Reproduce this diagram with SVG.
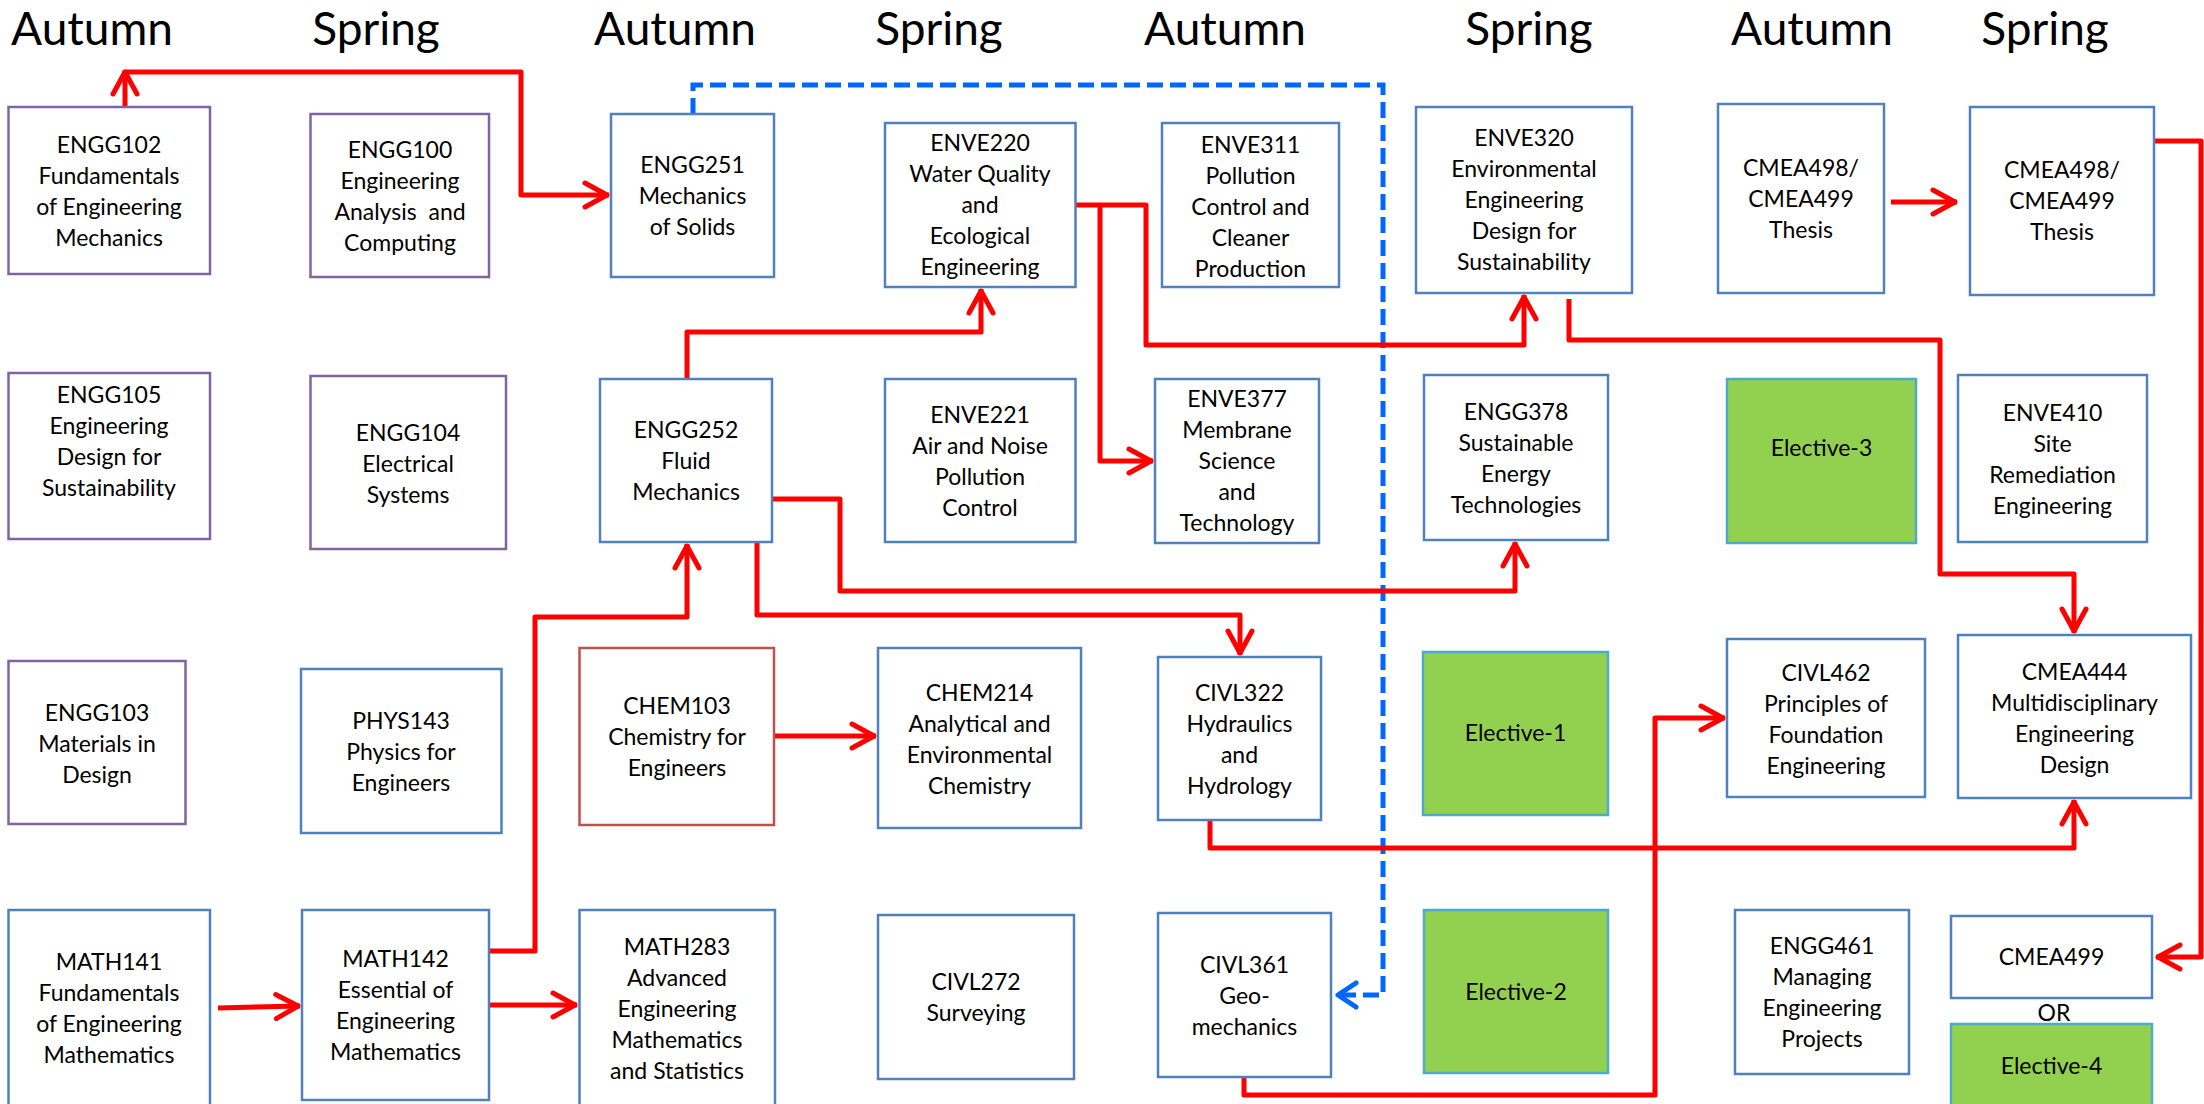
<svg xmlns="http://www.w3.org/2000/svg" width="2204" height="1104" viewBox="0 0 2204 1104">
<defs>
<style>
.hd{font-family:Lato,"Liberation Sans",sans-serif;font-size:46px;fill:#000;text-anchor:middle}
.t{font-family:Lato,"Liberation Sans",sans-serif;font-size:23px;fill:#000;text-anchor:middle}
.bp{fill:#fff;stroke:#8064A2;stroke-width:2.5}
.bb{fill:#fff;stroke:#4F81BD;stroke-width:2.5}
.br{fill:#fff;stroke:#C0504D;stroke-width:2.5}
.bg{fill:#92D050;stroke:#4BACC6;stroke-width:2.5}
.rl{fill:none;stroke:#FF0000;stroke-width:5;stroke-linejoin:round}
.dl{fill:none;stroke:#0066FF;stroke-width:5;stroke-dasharray:16 7}
</style>
<marker id="ar" markerUnits="userSpaceOnUse" viewBox="-30 -16 34 32" refX="0" refY="0" markerWidth="34" markerHeight="32" orient="auto">
<path d="M-24,-12 L-2,0 L-24,12" fill="none" stroke="#FF0000" stroke-width="5" stroke-linecap="round" stroke-linejoin="round"/>
</marker>
<marker id="ab" markerUnits="userSpaceOnUse" viewBox="-30 -16 34 32" refX="0" refY="0" markerWidth="34" markerHeight="32" orient="auto">
<path d="M-20,-12 L-2,0 L-20,12" fill="none" stroke="#0066FF" stroke-width="5" stroke-linecap="round" stroke-linejoin="round"/>
</marker>
</defs>
<rect width="2204" height="1104" fill="#fff"/>
<g id="headers">
<text class="hd" x="92" y="45">Autumn</text>
<text class="hd" x="376" y="45">Spring</text>
<text class="hd" x="675" y="45">Autumn</text>
<text class="hd" x="939" y="45">Spring</text>
<text class="hd" x="1225" y="45">Autumn</text>
<text class="hd" x="1529" y="45">Spring</text>
<text class="hd" x="1812" y="45">Autumn</text>
<text class="hd" x="2045" y="45">Spring</text>
</g>
<g id="connectors">
<path class="dl" d="M693,114 V85 H1383 V995 H1336" marker-end="url(#ab)"/>
<path class="rl" d="M125,107 V70" marker-end="url(#ar)"/>
<path class="rl" d="M125,72 H521 V195 H609" marker-end="url(#ar)"/>
<path class="rl" d="M1075,205 H1146 V345 H1524 V295" marker-end="url(#ar)"/>
<path class="rl" d="M1100,205 V461 H1153" marker-end="url(#ar)"/>
<path class="rl" d="M687,379 V332 H981 V289" marker-end="url(#ar)"/>
<path class="rl" d="M486,951 H535 V617 H687 V544" marker-end="url(#ar)"/>
<path class="rl" d="M772,499 H840 V591 H1515 V542" marker-end="url(#ar)"/>
<path class="rl" d="M757,542 V615 H1240 V655" marker-end="url(#ar)"/>
<path class="rl" d="M774,736 H876" marker-end="url(#ar)"/>
<path class="rl" d="M218,1008 L300,1006" marker-end="url(#ar)"/>
<path class="rl" d="M489,1005 H577" marker-end="url(#ar)"/>
<path class="rl" d="M1569,299 V340 H1940 V574 H2074 V633" marker-end="url(#ar)"/>
<path class="rl" d="M1891,202 H1957" marker-end="url(#ar)"/>
<path class="rl" d="M2152,141 H2201 V957 H2156" marker-end="url(#ar)"/>
<path class="rl" d="M1210,820 V848 H2074 V800" marker-end="url(#ar)"/>
<path class="rl" d="M1244,1077 V1095 H1655 V718 H1725" marker-end="url(#ar)"/>
</g>
<g id="ENGG102"><rect class="bp" x="8.5" y="107" width="201.5" height="167"/><text class="t" x="109" y="153"><tspan x="109">ENGG102</tspan><tspan x="109" dy="31">Fundamentals</tspan><tspan x="109" dy="31">of Engineering</tspan><tspan x="109" dy="31">Mechanics</tspan></text></g>
<g id="ENGG100"><rect class="bp" x="310.5" y="114" width="178.5" height="163"/><text class="t" x="400" y="158"><tspan x="400">ENGG100</tspan><tspan x="400" dy="31">Engineering</tspan><tspan x="400" dy="31" xml:space="preserve">Analysis  and</tspan><tspan x="400" dy="31">Computing</tspan></text></g>
<g id="ENGG251"><rect class="bb" x="611" y="114" width="163" height="163"/><text class="t" x="692.5" y="173"><tspan x="692.5">ENGG251</tspan><tspan x="692.5" dy="31">Mechanics</tspan><tspan x="692.5" dy="31">of Solids</tspan></text></g>
<g id="ENVE220"><rect class="bb" x="885" y="123" width="190.5" height="164"/><text class="t" x="980" y="151"><tspan x="980">ENVE220</tspan><tspan x="980" dy="31">Water Quality</tspan><tspan x="980" dy="31">and</tspan><tspan x="980" dy="31">Ecological</tspan><tspan x="980" dy="31">Engineering</tspan></text></g>
<g id="ENVE311"><rect class="bb" x="1162" y="123" width="177" height="164"/><text class="t" x="1250.5" y="153"><tspan x="1250.5">ENVE311</tspan><tspan x="1250.5" dy="31">Pollution</tspan><tspan x="1250.5" dy="31">Control and</tspan><tspan x="1250.5" dy="31">Cleaner</tspan><tspan x="1250.5" dy="31">Production</tspan></text></g>
<g id="ENVE320"><rect class="bb" x="1416" y="107" width="216" height="186"/><text class="t" x="1524" y="146"><tspan x="1524">ENVE320</tspan><tspan x="1524" dy="31">Environmental</tspan><tspan x="1524" dy="31">Engineering</tspan><tspan x="1524" dy="31">Design for</tspan><tspan x="1524" dy="31">Sustainability</tspan></text></g>
<g id="CMEA498A"><rect class="bb" x="1718" y="104" width="166" height="189"/><text class="t" x="1801" y="176"><tspan x="1801">CMEA498/</tspan><tspan x="1801" dy="31">CMEA499</tspan><tspan x="1801" dy="31">Thesis</tspan></text></g>
<g id="CMEA498S"><rect class="bb" x="1970" y="107" width="184" height="188"/><text class="t" x="2062" y="178"><tspan x="2062">CMEA498/</tspan><tspan x="2062" dy="31">CMEA499</tspan><tspan x="2062" dy="31">Thesis</tspan></text></g>
<g id="ENGG105"><rect class="bp" x="8.5" y="373" width="201.5" height="166"/><text class="t" x="109" y="403"><tspan x="109">ENGG105</tspan><tspan x="109" dy="31">Engineering</tspan><tspan x="109" dy="31">Design for</tspan><tspan x="109" dy="31">Sustainability</tspan></text></g>
<g id="ENGG104"><rect class="bp" x="310.5" y="376" width="195.5" height="173"/><text class="t" x="408" y="441"><tspan x="408">ENGG104</tspan><tspan x="408" dy="31">Electrical</tspan><tspan x="408" dy="31">Systems</tspan></text></g>
<g id="ENGG252"><rect class="bb" x="600" y="379" width="172" height="163"/><text class="t" x="686" y="438"><tspan x="686">ENGG252</tspan><tspan x="686" dy="31">Fluid</tspan><tspan x="686" dy="31">Mechanics</tspan></text></g>
<g id="ENVE221"><rect class="bb" x="885" y="379" width="190.5" height="163"/><text class="t" x="980" y="423"><tspan x="980">ENVE221</tspan><tspan x="980" dy="31">Air and Noise</tspan><tspan x="980" dy="31">Pollution</tspan><tspan x="980" dy="31">Control</tspan></text></g>
<g id="ENVE377"><rect class="bb" x="1155" y="379" width="164" height="164"/><text class="t" x="1237" y="407"><tspan x="1237">ENVE377</tspan><tspan x="1237" dy="31">Membrane</tspan><tspan x="1237" dy="31">Science</tspan><tspan x="1237" dy="31">and</tspan><tspan x="1237" dy="31">Technology</tspan></text></g>
<g id="ENGG378"><rect class="bb" x="1424" y="375" width="184" height="165"/><text class="t" x="1516" y="420"><tspan x="1516">ENGG378</tspan><tspan x="1516" dy="31">Sustainable</tspan><tspan x="1516" dy="31">Energy</tspan><tspan x="1516" dy="31">Technologies</tspan></text></g>
<g id="Elective3"><rect class="bg" x="1727" y="379" width="189" height="164"/><text class="t" x="1821.5" y="456">Elective-3</text></g>
<g id="ENVE410"><rect class="bb" x="1958" y="375" width="189" height="167"/><text class="t" x="2052.5" y="421"><tspan x="2052.5">ENVE410</tspan><tspan x="2052.5" dy="31">Site</tspan><tspan x="2052.5" dy="31">Remediation</tspan><tspan x="2052.5" dy="31">Engineering</tspan></text></g>
<g id="ENGG103"><rect class="bp" x="8.5" y="661" width="177" height="163"/><text class="t" x="97" y="721"><tspan x="97">ENGG103</tspan><tspan x="97" dy="31">Materials in</tspan><tspan x="97" dy="31">Design</tspan></text></g>
<g id="PHYS143"><rect class="bb" x="301" y="669" width="200.5" height="164"/><text class="t" x="401" y="729"><tspan x="401">PHYS143</tspan><tspan x="401" dy="31">Physics for</tspan><tspan x="401" dy="31">Engineers</tspan></text></g>
<g id="CHEM103"><rect class="br" x="579.5" y="648" width="194.5" height="177"/><text class="t" x="677" y="714"><tspan x="677">CHEM103</tspan><tspan x="677" dy="31">Chemistry for</tspan><tspan x="677" dy="31">Engineers</tspan></text></g>
<g id="CHEM214"><rect class="bb" x="878" y="648" width="203" height="180"/><text class="t" x="979.5" y="701"><tspan x="979.5">CHEM214</tspan><tspan x="979.5" dy="31">Analytical and</tspan><tspan x="979.5" dy="31">Environmental</tspan><tspan x="979.5" dy="31">Chemistry</tspan></text></g>
<g id="CIVL322"><rect class="bb" x="1158" y="657" width="163" height="163"/><text class="t" x="1239.5" y="701"><tspan x="1239.5">CIVL322</tspan><tspan x="1239.5" dy="31">Hydraulics</tspan><tspan x="1239.5" dy="31">and</tspan><tspan x="1239.5" dy="31">Hydrology</tspan></text></g>
<g id="Elective1"><rect class="bg" x="1423" y="652" width="185" height="163"/><text class="t" x="1515.5" y="741">Elective-1</text></g>
<g id="CIVL462"><rect class="bb" x="1727" y="639" width="198" height="158"/><text class="t" x="1826" y="681"><tspan x="1826">CIVL462</tspan><tspan x="1826" dy="31">Principles of</tspan><tspan x="1826" dy="31">Foundation</tspan><tspan x="1826" dy="31">Engineering</tspan></text></g>
<g id="CMEA444"><rect class="bb" x="1958" y="635" width="233" height="163"/><text class="t" x="2074.5" y="680"><tspan x="2074.5">CMEA444</tspan><tspan x="2074.5" dy="31">Multidisciplinary</tspan><tspan x="2074.5" dy="31">Engineering</tspan><tspan x="2074.5" dy="31">Design</tspan></text></g>
<g id="MATH141"><rect class="bb" x="8.5" y="910" width="201.5" height="200"/><text class="t" x="109" y="970"><tspan x="109">MATH141</tspan><tspan x="109" dy="31">Fundamentals</tspan><tspan x="109" dy="31">of Engineering</tspan><tspan x="109" dy="31">Mathematics</tspan></text></g>
<g id="MATH142"><rect class="bb" x="302" y="910" width="187" height="190"/><text class="t" x="395.5" y="967"><tspan x="395.5">MATH142</tspan><tspan x="395.5" dy="31">Essential of</tspan><tspan x="395.5" dy="31">Engineering</tspan><tspan x="395.5" dy="31">Mathematics</tspan></text></g>
<g id="MATH283"><rect class="bb" x="579.5" y="910" width="195.5" height="200"/><text class="t" x="677" y="955"><tspan x="677">MATH283</tspan><tspan x="677" dy="31">Advanced</tspan><tspan x="677" dy="31">Engineering</tspan><tspan x="677" dy="31">Mathematics</tspan><tspan x="677" dy="31">and Statistics</tspan></text></g>
<g id="CIVL272"><rect class="bb" x="878" y="915" width="196" height="164"/><text class="t" x="976" y="990"><tspan x="976">CIVL272</tspan><tspan x="976" dy="31">Surveying</tspan></text></g>
<g id="CIVL361"><rect class="bb" x="1158" y="913" width="173" height="164"/><text class="t" x="1244.5" y="973"><tspan x="1244.5">CIVL361</tspan><tspan x="1244.5" dy="31">Geo-</tspan><tspan x="1244.5" dy="31">mechanics</tspan></text></g>
<g id="Elective2"><rect class="bg" x="1424" y="910" width="184" height="163"/><text class="t" x="1516" y="1000">Elective-2</text></g>
<g id="ENGG461"><rect class="bb" x="1735" y="910" width="174" height="164"/><text class="t" x="1822" y="954"><tspan x="1822">ENGG461</tspan><tspan x="1822" dy="31">Managing</tspan><tspan x="1822" dy="31">Engineering</tspan><tspan x="1822" dy="31">Projects</tspan></text></g>
<g id="CMEA499"><rect class="bb" x="1951" y="916" width="201" height="82"/><text class="t" x="2051.5" y="965">CMEA499</text></g>
<g id="OR"><text class="t" x="2054" y="1021">OR</text></g>
<g id="Elective4"><rect class="bg" x="1951" y="1024" width="201" height="90"/><text class="t" x="2051.5" y="1074">Elective-4</text></g>
</svg>
